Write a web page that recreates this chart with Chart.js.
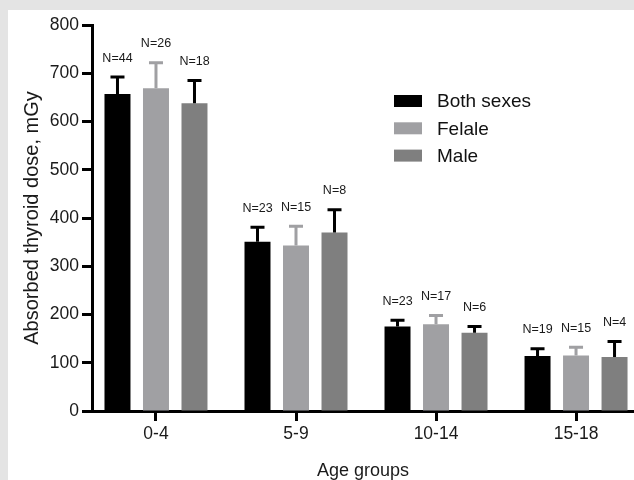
<!DOCTYPE html>
<html>
<head>
<meta charset="utf-8">
<script src="https://cdn.jsdelivr.net/npm/chart.js@4.4.1/dist/chart.umd.min.js"></script>
<style>
    html, body {
        margin: 0;
        padding: 0;
        background: #e4e4e4;
    }
    .wrap {
        position: absolute;
        left: 8px;
        top: 10px;
        width: 626px;
        height: 470px;
        background: #ffffff;
    }
</style>
</head>
<body>
<div class="wrap">
    <canvas id="myChart" width="626" height="470"></canvas>
</div>
<script>
const ageGroups = ["0-4", "5-9", "10-14", "15-18"];
const seriesNames = ["Both sexes", "Felale", "Male"];

const bothSexes = [657, 351, 175, 114];
const female = [669, 343, 180, 115];
const male = [638, 370, 162, 112];

const bothSexesErr = [35, 30, 13, 15];
const femaleErr = [53, 40, 18, 17];
const maleErr = [47, 47, 13, 32];

const bothSexesN = [44, 23, 23, 19];
const femaleN = [26, 15, 17, 15];
const maleN = [18, 8, 6, 4];

const yTicks = [0, 100, 200, 300, 400, 500, 600, 700, 800];

const barColors = ['#000000', '#a0a0a3', '#7f7f7f'];
const errColors = ['#000000', '#a0a0a3', '#000000'];
const fontName = '"Liberation Sans", Arial, sans-serif';

const values = [bothSexes, female, male];
const errors = [bothSexesErr, femaleErr, maleErr];
const counts = [bothSexesN, femaleN, maleN];

// error whiskers (upper only) and N= labels above them
const errorBarPlugin = {
    id: 'errorBars',
    afterDatasetsDraw(chart) {
        const ctx = chart.ctx;
        const yScale = chart.scales.y;
        ctx.save();
        chart.data.datasets.forEach((ds, i) => {
            const meta = chart.getDatasetMeta(i);
            meta.data.forEach((bar, j) => {
                const capY = yScale.getPixelForValue(values[i][j] + errors[i][j]);
                ctx.strokeStyle = errColors[i];
                ctx.lineWidth = 3;
                ctx.beginPath();
                ctx.moveTo(bar.x, bar.y);
                ctx.lineTo(bar.x, capY);
                ctx.moveTo(bar.x - 7, capY);
                ctx.lineTo(bar.x + 7, capY);
                ctx.stroke();

                ctx.fillStyle = '#1a1a1a';
                ctx.font = '12.5px ' + fontName;
                ctx.textAlign = 'center';
                ctx.textBaseline = 'middle';
                ctx.fillText('N=' + counts[i][j], bar.x, capY - 19);
            });
        });
        ctx.restore();
    }
};

// legend inside the plot, top right
const legendPlugin = {
    id: 'boxLegend',
    afterDraw(chart) {
        const ctx = chart.ctx;
        ctx.save();
        seriesNames.forEach((name, i) => {
            const y = 91 + i * 27.3;
            ctx.fillStyle = barColors[i];
            ctx.fillRect(386, y - 6, 28, 12);
            ctx.fillStyle = '#111111';
            ctx.font = '19px ' + fontName;
            ctx.textAlign = 'left';
            ctx.textBaseline = 'middle';
            ctx.fillText(name, 429, y + 1);
        });
        ctx.restore();
    }
};

new Chart("myChart", {
    type: "bar",
    data: {
        datasets: seriesNames.map((name, i) => ({
            label: name,
            backgroundColor: barColors[i],
            data: values[i].map((v, k) => ({ x: k, y: v })),
            categoryPercentage: 0.825,
            barPercentage: 0.675
        }))
    },
    options: {
        responsive: false,
        animation: false,
        events: [],
        layout: {
            padding: { top: 15, right: 0, bottom: 0, left: 0 }
        },
        plugins: {
            legend: { display: false },
            tooltip: { enabled: false }
        },
        scales: {
            x: {
                type: 'linear',
                offset: false,
                min: -0.457,
                max: 3.414,
                afterBuildTicks: (scale) => {
                    scale.ticks = ageGroups.map((g, k) => ({ value: k }));
                },
                afterFit: (scale) => {
                    scale.height = 69;
                },
                grid: {
                    display: true,
                    offset: false,
                    drawOnChartArea: false,
                    drawTicks: true,
                    tickLength: 10,
                    tickWidth: 3,
                    tickColor: '#000000'
                },
                border: { display: true, width: 3, color: '#000000' },
                ticks: {
                    color: '#1a1a1a',
                    padding: 3,
                    font: { family: fontName, size: 17.5 },
                    callback: (v) => ageGroups[v]
                },
                title: {
                    display: true,
                    text: 'Age groups',
                    color: '#1a1a1a',
                    padding: { top: 0, bottom: 0 },
                    font: { family: fontName, size: 18, lineHeight: 1 }
                }
            },
            y: {
                min: 0,
                max: 800,
                afterBuildTicks: (scale) => {
                    scale.ticks = yTicks.map(v => ({ value: v }));
                },
                afterFit: (scale) => {
                    scale.width = 84;
                },
                grid: {
                    display: true,
                    drawOnChartArea: false,
                    drawTicks: true,
                    tickLength: 10,
                    tickWidth: 3,
                    tickColor: '#000000'
                },
                border: { display: true, width: 3, color: '#000000' },
                ticks: {
                    color: '#1a1a1a',
                    padding: 3,
                    font: { family: fontName, size: 17.5 }
                },
                title: {
                    display: true,
                    text: 'Absorbed thyroid dose, mGy',
                    color: '#1a1a1a',
                    padding: { top: 12, bottom: 0 },
                    font: { family: fontName, size: 20 }
                }
            }
        }
    },
    plugins: [errorBarPlugin, legendPlugin]
});
</script>
</body>
</html>
